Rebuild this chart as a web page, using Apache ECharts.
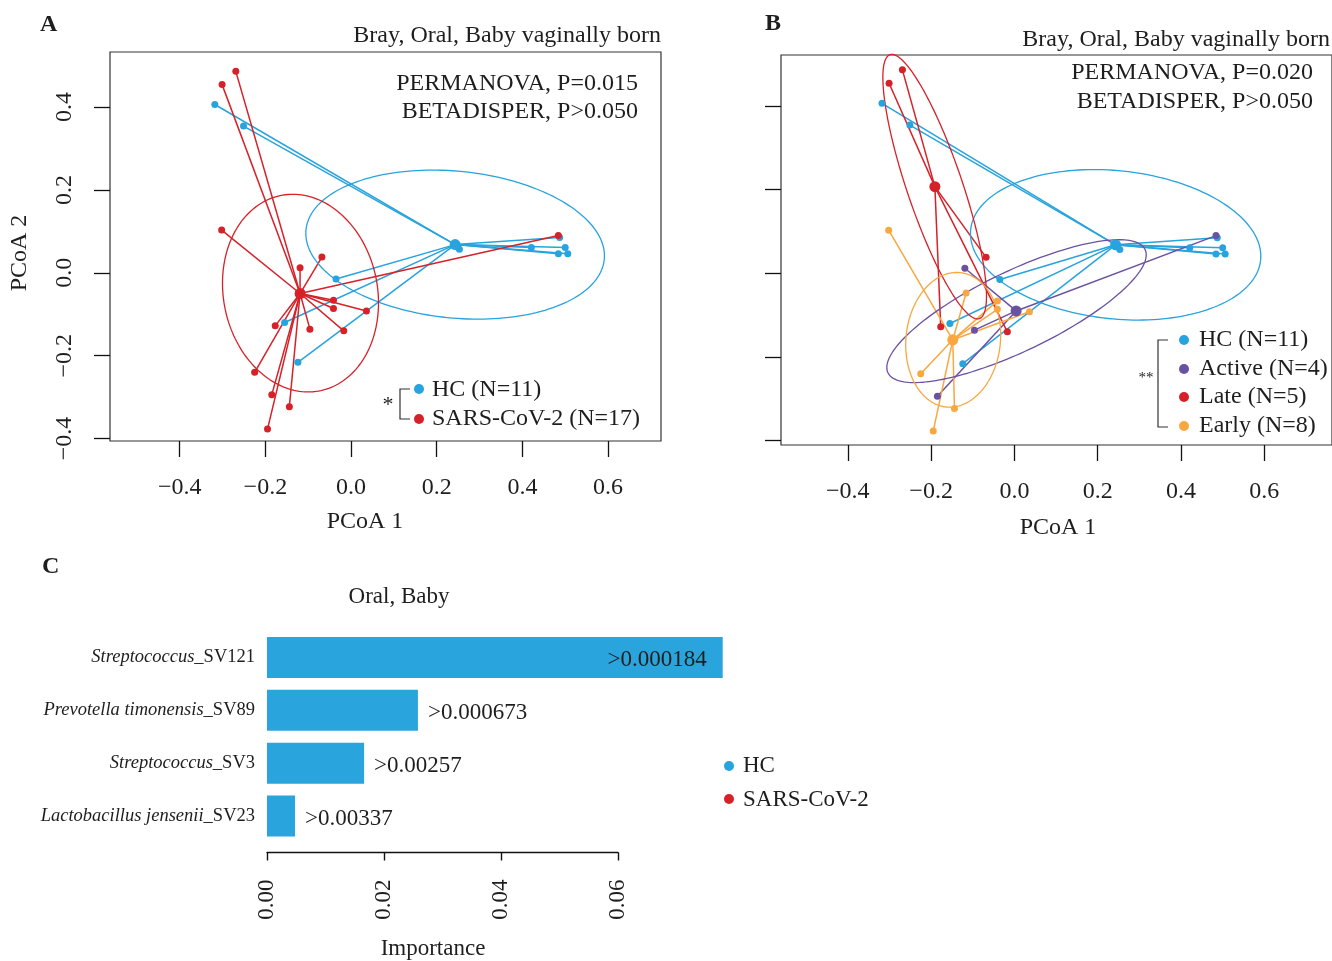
<!DOCTYPE html>
<html><head><meta charset="utf-8">
<script src="https://cdn.jsdelivr.net/npm/echarts@6/dist/echarts.min.js"></script>
<style>html,body{margin:0;padding:0;background:#fff}#c{width:1332px;height:961px}</style>
</head><body><div id="c"></div>
<script>
// ---------------- data ----------------
const hcPoints = [
  [-0.318, 0.406], [-0.251, 0.354], [0.253, 0.057], [0.487, 0.085], [0.500, 0.061],
  [0.421, 0.061], [0.484, 0.046], [0.506, 0.046], [-0.035, -0.015], [-0.155, -0.120], [-0.124, -0.216]
];
const sarsPoints = [
  [-0.269, 0.486], [-0.301, 0.454], [-0.302, 0.103], [-0.119, 0.012], [-0.068, 0.038],
  [0.484, 0.090], [-0.041, -0.066], [-0.041, -0.086], [0.036, -0.092], [-0.017, -0.140],
  [-0.096, -0.136], [-0.177, -0.128], [-0.225, -0.240], [-0.185, -0.294], [-0.144, -0.323],
  [-0.195, -0.377], [-0.116, -0.047]
];
const sarsStage = ['Late','Late','Early','Active','Late','Active','Early','Early','Early','Late',
  'Active','Late','Early','Active','Early','Early','Early'];
const centroidHC = [0.243, 0.068];
const centroidSARS = [-0.119, -0.050];
const centroidActive = [0.004, -0.090];
const centroidLate = [-0.191, 0.207];
const centroidEarly = [-0.148, -0.159];
// ellipse: centre x, centre y, semi-major, semi-minor, angle (deg)
const ellipseHC = [0.243, 0.068, 0.350, 0.177, -6];
const ellipseSARS = [-0.118, -0.049, 0.240, 0.180, 100];
const ellipseActive = [0.005, -0.0905, 0.342, 0.0957, 25.5];
const ellipseLate = [-0.1915, 0.207, 0.333, 0.0665, 108.8];
const ellipseEarly = [-0.147, -0.159, 0.1614, 0.1134, 84];
const pcoaTicks = [-0.4, -0.2, 0, 0.2, 0.4, 0.6];
const pcoaYTicks = [-0.4, -0.2, 0, 0.2, 0.4];

const barCategories = ['Streptococcus_SV121', 'Prevotella timonensis_SV89', 'Streptococcus_SV3', 'Lactobacillus jensenii_SV23'];
const barValues = [0.0779, 0.0258, 0.0166, 0.0048];
const barLabels = ['>0.000184', '>0.000673', '>0.00257', '>0.00337'];

// ---------------- style ----------------
const FONT = "'Liberation Serif', 'DejaVu Serif', serif";
const C_HC = '#27a3dd', C_RED = '#d62128', C_ACT = '#6b51a2', C_EARLY = '#f9a740', C_BAR = '#29a4dd';
const TXT = '#1e1e1e';

function fmt(v) {
  if (Math.abs(v) < 1e-9) return '0.0';
  return (v < 0 ? '\u2212' : '') + Math.abs(v).toFixed(1);
}

function spider(points, centroid, color, gi) {
  return {
    type: 'custom', xAxisIndex: gi, yAxisIndex: gi, silent: true, z: 2,
    data: points.map(p => [p[0], p[1], centroid[0], centroid[1]]),
    encode: { x: 0, y: 1 },
    renderItem: (params, api) => {
      const p = api.coord([api.value(0), api.value(1)]);
      const c = api.coord([api.value(2), api.value(3)]);
      return { type: 'line', shape: { x1: c[0], y1: c[1], x2: p[0], y2: p[1] },
        style: { stroke: color, lineWidth: 1.5 } };
    }
  };
}
function ellipse(par, color, gi) {
  return {
    type: 'custom', xAxisIndex: gi, yAxisIndex: gi, silent: true, z: 3,
    data: [par], encode: { x: 0, y: 1 },
    renderItem: (params, api) => {
      const cx = api.value(0), cy = api.value(1), a = api.value(2), b = api.value(3);
      const phi = api.value(4) * Math.PI / 180;
      const pts = [];
      for (let k = 0; k <= 180; k++) {
        const t = 2 * Math.PI * k / 180;
        const dx = a * Math.cos(t) * Math.cos(phi) - b * Math.sin(t) * Math.sin(phi);
        const dy = a * Math.cos(t) * Math.sin(phi) + b * Math.sin(t) * Math.cos(phi);
        pts.push(api.coord([cx + dx, cy + dy]));
      }
      return { type: 'polyline', shape: { points: pts }, style: { stroke: color, lineWidth: 1.3, fill: null } };
    }
  };
}
function pts(points, color, gi, size, z) {
  return { type: 'scatter', xAxisIndex: gi, yAxisIndex: gi, data: points, symbolSize: size, silent: true,
    itemStyle: { color: color, opacity: 1 }, z: z || 5, clip: false };
}

const sel = s => sarsPoints.filter((p, i) => sarsStage[i] === s);

function pcoaX(gi, min, max) {
  return { type: 'value', gridIndex: gi, position: 'bottom', min: min, max: max, splitLine: { show: false },
    axisLine: { show: false, onZero: false },
    axisTick: { show: true, customValues: pcoaTicks, length: 16, lineStyle: { color: '#111', width: 1.3 } },
    axisLabel: { customValues: pcoaTicks, formatter: fmt, fontFamily: FONT, fontSize: 24, color: TXT, margin: 35 } };
}
function pcoaY(gi, min, max, showLabel) {
  return { type: 'value', gridIndex: gi, position: 'left', min: min, max: max, splitLine: { show: false },
    axisLine: { show: false, onZero: false },
    axisTick: { show: true, customValues: pcoaYTicks, length: 16, lineStyle: { color: '#111', width: 1.3 } },
    axisLabel: { show: showLabel, customValues: pcoaYTicks, formatter: fmt, rotate: 90, fontFamily: FONT, fontSize: 24, color: TXT, margin: 33 } };
}

function txt(x, y, text, opts) {
  opts = opts || {};
  return { type: 'text', x: x, y: y, rotation: opts.rot || 0, z: 100,
    style: { text: text, fontFamily: FONT, fontSize: opts.size || 24, fontWeight: opts.weight || 'normal',
      fill: opts.color || TXT, align: opts.align || 'left', verticalAlign: 'middle' } };
}
function dot(x, y, color) {
  return { type: 'circle', shape: { cx: x, cy: y, r: 5 }, style: { fill: color }, z: 100 };
}
function bracket(x, y1, y2, x2) {
  return { type: 'polyline', shape: { points: [[x2, y1], [x, y1], [x, y2], [x2, y2]] },
    style: { stroke: '#333', lineWidth: 1.2, fill: null }, z: 100 };
}

const option = {
  animation: false,
  backgroundColor: '#fff',
  grid: [
    { left: 110, top: 52, width: 551, height: 389, show: true, borderColor: '#333', borderWidth: 1.2, backgroundColor: 'transparent' },
    { left: 781, top: 55, width: 553, height: 390, show: true, borderColor: '#333', borderWidth: 1.2, backgroundColor: 'transparent' },
    { left: 267, top: 631, width: 351, height: 211.5, show: false }
  ],
  xAxis: [
    pcoaX(0, -0.5627, 0.7236),
    pcoaX(1, -0.5605, 0.7625),
    { type: 'value', gridIndex: 2, min: 0, max: 0.06, interval: 0.02, offset: 10, splitLine: { show: false },
      axisLine: { show: true, onZero: false, lineStyle: { color: '#111', width: 1.4 } },
      axisTick: { show: true, length: 8, lineStyle: { color: '#111', width: 1.4 } },
      axisLabel: { rotate: 90, formatter: v => v.toFixed(2), fontFamily: FONT, fontSize: 23, color: TXT, margin: 27 } }
  ],
  yAxis: [
    pcoaY(0, -0.4058, 0.5327, true),
    pcoaY(1, -0.4103, 0.5215, false),
    { type: 'category', gridIndex: 2, inverse: true, data: barCategories,
      axisLine: { show: false }, axisTick: { show: false },
      axisLabel: { margin: 12,
        formatter: v => { const i = v.lastIndexOf('_'); return '{i|' + v.slice(0, i) + '}{n|' + v.slice(i) + '}'; },
        rich: { i: { fontFamily: FONT, fontSize: 18.5, fontStyle: 'italic', color: TXT },
                n: { fontFamily: FONT, fontSize: 18.5, color: TXT } } } }
  ],
  series: [
    // Panel A
    spider(hcPoints, centroidHC, C_HC, 0),
    spider(sarsPoints, centroidSARS, C_RED, 0),
    ellipse(ellipseHC, C_HC, 0),
    ellipse(ellipseSARS, C_RED, 0),
    pts(hcPoints, C_HC, 0, 7),
    pts(sarsPoints, C_RED, 0, 7),
    pts([centroidHC], C_HC, 0, 11, 6),
    pts([centroidSARS], C_RED, 0, 11, 6),
    // Panel B
    spider(hcPoints, centroidHC, C_HC, 1),
    spider(sel('Active'), centroidActive, C_ACT, 1),
    spider(sel('Late'), centroidLate, C_RED, 1),
    spider(sel('Early'), centroidEarly, C_EARLY, 1),
    ellipse(ellipseHC, C_HC, 1),
    ellipse(ellipseActive, C_ACT, 1),
    ellipse(ellipseLate, C_RED, 1),
    ellipse(ellipseEarly, C_EARLY, 1),
    pts(hcPoints, C_HC, 1, 7),
    pts(sel('Active'), C_ACT, 1, 7),
    pts(sel('Late'), C_RED, 1, 7),
    pts(sel('Early'), C_EARLY, 1, 7),
    pts([centroidHC], C_HC, 1, 11, 6),
    pts([centroidActive], C_ACT, 1, 11, 6),
    pts([centroidLate], C_RED, 1, 11, 6),
    pts([centroidEarly], C_EARLY, 1, 11, 6),
    // Panel C
    { type: 'bar', xAxisIndex: 2, yAxisIndex: 2, barWidth: 41, clip: false, silent: true,
      itemStyle: { color: C_BAR },
      data: barValues.map((v, i) => ({ value: v,
        label: { show: true, formatter: barLabels[i], position: i === 0 ? 'insideRight' : 'right',
          distance: i === 0 ? 16 : 10, offset: [0, 3], fontFamily: FONT, fontSize: 23, color: TXT } })) }
  ],
  graphic: [
    txt(40, 25, 'A', { weight: 'bold', size: 24 }),
    txt(765, 24, 'B', { weight: 'bold', size: 24 }),
    txt(42, 567, 'C', { weight: 'bold', size: 24 }),
    txt(661, 36, 'Bray, Oral, Baby vaginally born', { align: 'right' }),
    txt(1330, 40, 'Bray, Oral, Baby vaginally born', { align: 'right' }),
    txt(638, 84, 'PERMANOVA, P=0.015', { align: 'right' }),
    txt(638, 112, 'BETADISPER, P>0.050', { align: 'right' }),
    txt(1313, 73, 'PERMANOVA, P=0.020', { align: 'right' }),
    txt(1313, 102, 'BETADISPER, P>0.050', { align: 'right' }),
    txt(365, 522, 'PCoA 1', { align: 'center' }),
    txt(1058, 528, 'PCoA 1', { align: 'center' }),
    txt(20, 253, 'PCoA 2', { align: 'center', rot: Math.PI / 2 }),
    // legend A
    bracket(400, 389, 419, 410),
    txt(388, 405, '*', { align: 'center', size: 22 }),
    dot(419, 389, C_HC), txt(432, 390, 'HC (N=11)'),
    dot(419, 419, C_RED), txt(432, 419, 'SARS-CoV-2 (N=17)'),
    // legend B
    bracket(1158, 340, 427, 1168),
    txt(1146, 378, '**', { align: 'center', size: 15 }),
    dot(1184, 340, C_HC), txt(1199, 340, 'HC (N=11)'),
    dot(1184, 369, C_ACT), txt(1199, 369, 'Active (N=4)'),
    dot(1184, 397, C_RED), txt(1199, 397, 'Late (N=5)'),
    dot(1184, 426, C_EARLY), txt(1199, 426, 'Early (N=8)'),
    // panel C
    txt(399, 597, 'Oral, Baby', { align: 'center', size: 23 }),
    txt(433, 949, 'Importance', { align: 'center', size: 23 }),
    dot(729, 766, C_HC), txt(743, 766, 'HC', { size: 23 }),
    dot(729, 799, C_RED), txt(743, 800, 'SARS-CoV-2', { size: 23 })
  ]
};
const chart = echarts.init(document.getElementById('c'), null, { renderer: 'canvas' });
chart.setOption(option);
</script></body></html>
